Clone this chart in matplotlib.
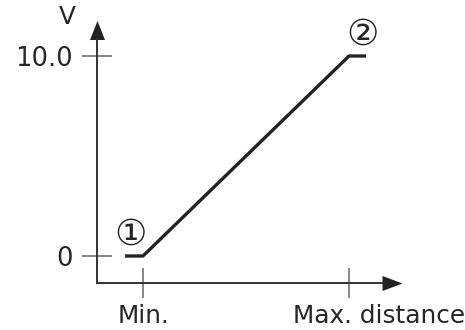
import matplotlib
matplotlib.use("Agg")
import matplotlib.pyplot as plt
from matplotlib.path import Path

# ---- data ----
distance = [-0.87, 0.0, 10.0, 10.83]      # Min. = 0, Max. = 10
voltage = [0.0, 0.0, 10.0, 10.0]
x_ticks = [0.0, 10.0]
x_labels = ["Min.", "Max. distance"]
y_ticks = [0.0, 10.0]
y_labels = ["0", "10.0"]
y_name = "V"
point_labels = ["\u2460", "\u2461"]

plt.rcParams['font.family'] = ['DejaVu Sans', 'Noto Sans CJK SC']
TXT = '#262626'
FS = 17.8

fig = plt.figure(figsize=(4.65, 3.3), dpi=100)
ax = fig.add_axes([0, 0, 1, 1])
ax.set_xlim(-6.942, 15.631)
ax.set_ylim(-3.7, 12.8)

y_axis_x = -2.233
x_axis_y = -1.35
y_axis_top = 10.85
x_axis_right = 11.6

for s in ['top', 'right']:
    ax.spines[s].set_visible(False)
ax.spines['left'].set_position(('data', y_axis_x))
ax.spines['bottom'].set_position(('data', x_axis_y))
ax.spines['left'].set_bounds(x_axis_y, y_axis_top)
ax.spines['bottom'].set_bounds(y_axis_x, x_axis_right)
for s in ['left', 'bottom']:
    ax.spines[s].set_color('#333333')
    ax.spines[s].set_linewidth(1.4)
ax.patch.set_visible(False)

ax.set_xticks(x_ticks)
ax.set_xticklabels([x_labels[0], ""])
ax.set_yticks(y_ticks)
ax.set_yticklabels(y_labels)
ax.tick_params(axis='both', direction='inout', length=21.6, width=1.1,
               color='#666666', labelsize=FS, labelcolor=TXT)
ax.tick_params(axis='y', labelsize=18.5, pad=7)
ax.tick_params(axis='x', pad=4.3)

ax.annotate(x_labels[1], xy=(x_ticks[1], x_axis_y), xytext=(-40.3, -15.1),
            textcoords='offset points', ha='left', va='top',
            fontsize=FS, color=TXT)

# arrow heads
up = Path([(-7.5, -9.5), (7.5, -9.5), (0, 9.5), (-7.5, -9.5)],
          [Path.MOVETO, Path.LINETO, Path.LINETO, Path.CLOSEPOLY])
right = Path([(-10, -7.5), (-10, 7.5), (10, 0), (-10, -7.5)],
             [Path.MOVETO, Path.LINETO, Path.LINETO, Path.CLOSEPOLY])
ax.plot([y_axis_x], [11.325], marker=up, markersize=13.7, color='#222222',
        markeredgewidth=0, clip_on=False)
ax.plot([12.087], [x_axis_y], marker=right, markersize=14.4, color='#222222',
        markeredgewidth=0, clip_on=False)

ax.annotate(y_name, xy=(y_axis_x, 11.8), xytext=(-21.6, 1.8),
            textcoords='offset points', ha='center', va='center',
            fontsize=FS, color=TXT)

# curve
ax.plot(distance, voltage, color='#222222', lw=2.4, solid_capstyle='butt')

ax.annotate(point_labels[0], xy=(distance[0], voltage[0]), xytext=(4.0, 15.1),
            textcoords='offset points', ha='center', va='center',
            fontsize=26, color=TXT)
ax.annotate(point_labels[1], xy=(distance[-1], voltage[-1]), xytext=(-2.5, 15.5),
            textcoords='offset points', ha='center', va='center',
            fontsize=26, color=TXT)

fig.savefig('out.png', dpi=100)
